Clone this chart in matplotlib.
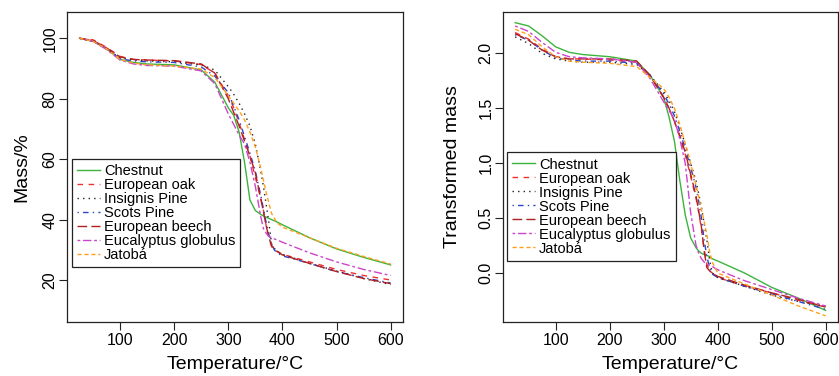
import matplotlib
matplotlib.use("Agg")
import matplotlib.pyplot as plt

plt.rcParams['font.family'] = ['Liberation Sans', 'DejaVu Sans']

# temperatures (degC) at which the curves were read
temp = [25, 50, 75, 100, 125, 150, 200, 250, 275, 300, 310, 320, 330, 340,
        350, 360, 365, 370, 375, 380, 385, 390, 400, 450, 500, 550, 600]

species = ['Chestnut', 'European oak', 'Insignis Pine', 'Scots Pine',
           'European beech', 'Eucalyptus globulus', 'Jatobá']

# mass / %
mass_chestnut = [100, 99, 96.5, 93, 92, 91.5, 91.2, 89.5, 85.5, 77, 74.5, 69, 59, 46.5,
                 43, 41.7, 41.2, 40.8, 40.4, 40, 39.6, 39.2, 38.3, 34, 30.3, 27.5, 25]
mass_oak = [100, 99.5, 97, 94, 93, 92.8, 92.5, 91.3, 88.5, 81, 77, 72, 66.5, 61,
            54, 47, 43, 38, 34, 31, 30, 29.5, 28.5, 26, 23.5, 21.5, 20]
mass_insignis = [100, 99, 96.5, 93.5, 92.8, 92.5, 92.2, 91.2, 89.5, 84, 81.5, 78.5, 75, 71,
                 65, 56, 51, 45, 39, 32, 30.5, 29.5, 28.5, 25.5, 23, 20.5, 18.5]
mass_scots = [100, 99, 96.5, 93.2, 92.5, 92.2, 92, 90.5, 87.5, 82, 77.5, 73, 67.5, 62,
              56, 48, 43.5, 39, 35, 32, 30, 29, 28, 25.5, 22.8, 20.8, 19]
mass_beech = [100, 99.3, 96.8, 93.8, 93, 92.8, 92.6, 91.5, 88.5, 80, 75.5, 71, 66, 61,
              55.5, 47, 42.5, 38, 34, 31.5, 30.3, 29.5, 28.3, 25.5, 22.8, 20.5, 18.8]
mass_eucalyptus = [100, 99, 96.3, 92.8, 91.5, 91, 90.8, 89.2, 85, 75, 71.5, 68, 65, 59,
                   51, 41, 37, 35.5, 34.5, 34, 33.6, 33.3, 32.5, 29, 26, 23.5, 21.5]
mass_jatoba = [100, 99, 96.5, 93, 91.8, 91.2, 90.8, 89.8, 87, 81, 78.5, 76, 73, 69,
               64, 57, 53, 49, 45.5, 42, 40.5, 39, 37.5, 34, 30.5, 27.8, 25.3]

# transformed mass
tm_chestnut = [2.28, 2.25, 2.16, 2.06, 2.01, 1.99, 1.97, 1.93, 1.8, 1.6, 1.42, 1.2, 0.84, 0.53,
               0.32, 0.23, 0.2, 0.18, 0.17, 0.16, 0.15, 0.13, 0.11, 0.0, -0.13, -0.23, -0.34]
tm_oak = [2.19, 2.13, 2.04, 1.97, 1.95, 1.95, 1.94, 1.92, 1.79, 1.6, 1.5, 1.38, 1.24, 1.08,
          0.88, 0.68, 0.55, 0.4, 0.22, 0.08, 0.03, 0.0, -0.04, -0.12, -0.18, -0.25, -0.31]
tm_insignis = [2.15, 2.09, 2.0, 1.95, 1.93, 1.92, 1.92, 1.9, 1.8, 1.65, 1.57, 1.47, 1.33, 1.17,
               1.0, 0.84, 0.72, 0.6, 0.45, 0.3, 0.12, 0.0, -0.04, -0.12, -0.2, -0.26, -0.3]
tm_scots = [2.17, 2.12, 2.03, 1.96, 1.94, 1.93, 1.93, 1.91, 1.8, 1.63, 1.54, 1.43, 1.29, 1.13,
            0.96, 0.78, 0.65, 0.5, 0.3, 0.15, 0.05, -0.01, -0.04, -0.12, -0.19, -0.26, -0.33]
tm_beech = [2.18, 2.12, 2.03, 1.97, 1.95, 1.95, 1.95, 1.93, 1.8, 1.6, 1.5, 1.38, 1.25, 1.1,
            0.9, 0.7, 0.56, 0.42, 0.2, 0.05, 0.02, 0.0, -0.03, -0.11, -0.18, -0.24, -0.31]
tm_eucalyptus = [2.25, 2.2, 2.1, 2.01, 1.97, 1.96, 1.95, 1.92, 1.77, 1.56, 1.48, 1.4, 1.22, 1.0,
                 0.55, 0.25, 0.18, 0.13, 0.1, 0.08, 0.07, 0.06, 0.03, -0.07, -0.15, -0.23, -0.3]
tm_jatoba = [2.22, 2.17, 2.06, 1.97, 1.93, 1.92, 1.91, 1.88, 1.78, 1.68, 1.6, 1.5, 1.35, 1.18,
             1.0, 0.8, 0.69, 0.58, 0.47, 0.35, 0.2, 0.1, 0.0, -0.1, -0.2, -0.3, -0.39]

mass_series = [mass_chestnut, mass_oak, mass_insignis, mass_scots,
               mass_beech, mass_eucalyptus, mass_jatoba]
tm_series = [tm_chestnut, tm_oak, tm_insignis, tm_scots,
             tm_beech, tm_eucalyptus, tm_jatoba]

colors = ['#3cb43c', '#f03030', '#222222', '#2d45c8', '#b02020', '#cc44cc', '#ffa020']
styles = ['-', (0, (4, 4)), (0, (1, 3)), (0, (1, 3, 4, 3)), (0, (7, 3)),
          (0, (2, 2, 6, 2)), (0, (3, 2))]

fig = plt.figure(figsize=(8.39, 3.76), dpi=100)
ax1 = fig.add_axes([0.0799, 0.1444, 0.4005, 0.8245])
ax2 = fig.add_axes([0.5992, 0.1444, 0.3997, 0.8245])


def style_axes(ax, ylabel, ylabel_x):
    ax.set_xlim(2, 623)
    ax.set_xticks([100, 200, 300, 400, 500, 600])
    ax.tick_params(direction='out', length=5.8, width=0.8, labelsize=11.5,
                   color='#222222')
    ax.tick_params(axis='x', pad=2)
    ax.tick_params(axis='y', pad=1)
    plt.setp(ax.get_yticklabels(), rotation=90, va='center')
    for s in ax.spines.values():
        s.set_linewidth(0.9)
        s.set_color('#222222')
    ax.set_xlabel('Temperature/°C', fontsize=14)
    ax.xaxis.set_label_coords(0.5, -0.11)
    ax.set_ylabel(ylabel, fontsize=14)
    ax.yaxis.set_label_coords(ylabel_x, 0.5)


for ys, c, ls, name in zip(mass_series, colors, styles, species):
    ax1.plot(temp, ys, color=c, linestyle=ls, linewidth=1.0, label=name)
ax1.set_ylim(6.2, 108.8)
ax1.set_yticks([20, 40, 60, 80, 100])
style_axes(ax1, 'Mass/%', -0.11)

for ys, c, ls, name in zip(tm_series, colors, styles, species):
    ax2.plot(temp, ys, color=c, linestyle=ls, linewidth=1.0, label=name)
ax2.set_ylim(-0.443, 2.38)
ax2.set_yticks([0.0, 0.5, 1.0, 1.5, 2.0])
ax2.set_yticklabels(['0.0', '0.5', '1.0', '1.5', '2.0'])
style_axes(ax2, 'Transformed mass', -0.125)

leg_kw = dict(loc='upper left', fontsize=10.5, frameon=True, fancybox=False,
              edgecolor='#222222', framealpha=1, borderpad=0.35, borderaxespad=0,
              handlelength=1.55, handletextpad=0.3, labelspacing=0.0)
leg1 = ax1.legend(bbox_to_anchor=(10.8, 60), bbox_transform=ax1.transData, **leg_kw)
leg2 = ax2.legend(bbox_to_anchor=(9.8, 1.098), bbox_transform=ax2.transData, **leg_kw)
for leg in (leg1, leg2):
    leg.get_frame().set_linewidth(0.9)

fig.savefig('out.png', dpi=100)
